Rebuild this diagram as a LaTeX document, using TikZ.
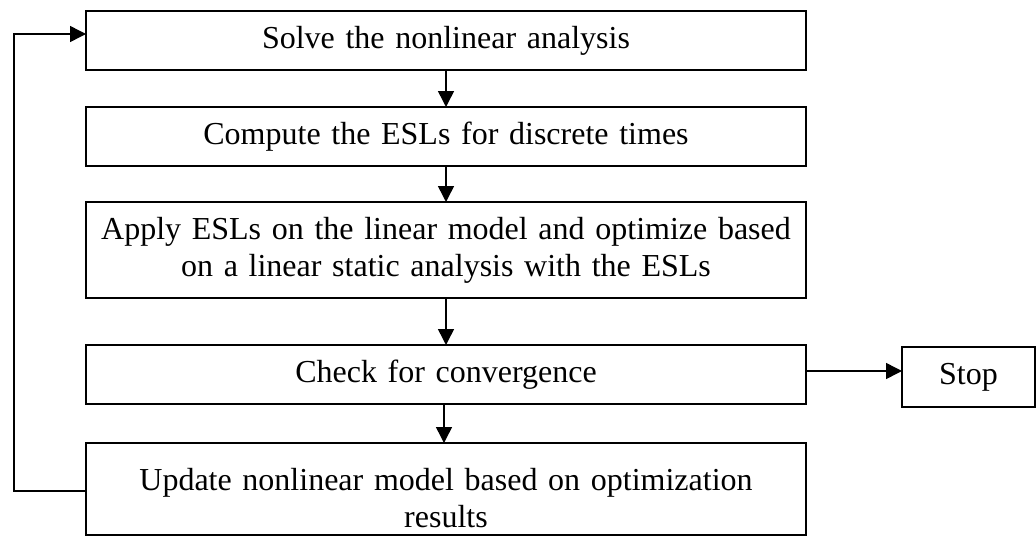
\documentclass[tikz,border=0pt]{standalone}
\usepackage{fontspec}
\setmainfont[WordSpace=0.85]{Liberation Serif}
\usetikzlibrary{arrows.meta}
\begin{document}
\begin{tikzpicture}[x=1pt,y=-1pt,
  box/.style={draw, line width=1.5pt, rectangle, inner sep=0pt, outer sep=0pt,
    minimum width=720pt, align=center, text width=700pt,
    font=\fontsize{32}{37}\selectfont},
  arr/.style={line width=1.5pt, -{Triangle[length=16pt,width=16pt]}}]
\useasboundingbox (0,0) rectangle (1036,536);
\node[box, minimum height=59pt] (b1) at (446,40.5) {Solve the nonlinear analysis};
\node[box, minimum height=59pt] (b2) at (446,136.5) {Compute the ESLs for discrete times};
\node[box, minimum height=96pt] (b3) at (446,250) {Apply ESLs on the linear model and optimize based\\on a linear static analysis with the ESLs};
\node[box, minimum height=59pt] (b4) at (446,374.5) {Check for convergence};
\node[box, minimum height=60pt, minimum width=133pt, text width=120pt] (stop) at (968.5,377) {Stop};
\node[box, minimum height=92pt] (b5) at (446,489) {\raisebox{-15pt}[0pt][0pt]{\parbox{700pt}{\centering Update nonlinear model based on optimization\\results}}};
\draw[arr] (b1.south) -- (b2.north);
\draw[arr] (b2.south) -- (b3.north);
\draw[arr] (b3.south) -- (b4.north);
\draw[arr] ([xshift=-2pt]b4.south) -- ([xshift=-2pt]b5.north);
\draw[arr] ([yshift=3.5pt]b4.east) -- ([yshift=3.5pt]b4.east -| stop.west);
\draw[arr] (b5.west |- 0,491) -- (14,491) -- (14,34) -- (b1.west |- 0,34);
\end{tikzpicture}
\end{document}
